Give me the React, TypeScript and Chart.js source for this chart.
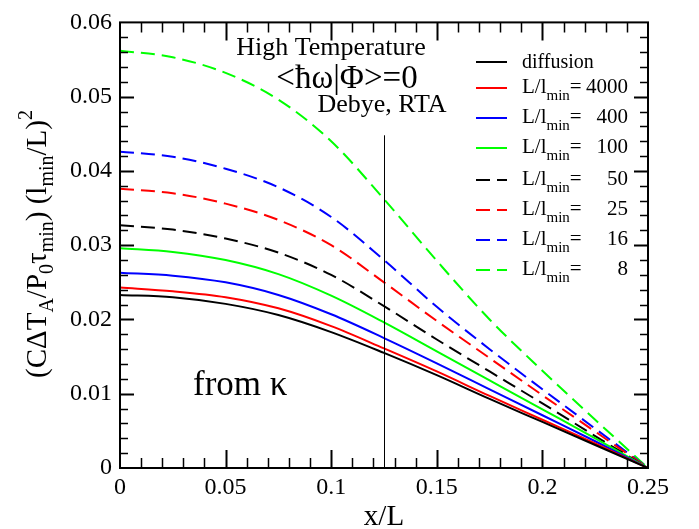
import React, { useEffect, useRef } from "react";
import { Chart, registerables } from "chart.js";

Chart.register(...registerables);

// ---- data ----
const xValues = [0, 0.025, 0.05, 0.075, 0.1, 0.125, 0.15, 0.175, 0.2, 0.225, 0.25];

const diffusion = [0.0233, 0.023, 0.0221, 0.0206, 0.0183, 0.0155, 0.0125, 0.0093, 0.0062, 0.0031, 0];
const ratio4000 = [0.0243, 0.0238, 0.023, 0.0215, 0.0191, 0.0161, 0.013, 0.0097, 0.0065, 0.0033, 0];
const ratio400 = [0.0263, 0.0259, 0.025, 0.0233, 0.0207, 0.0175, 0.0141, 0.0106, 0.0071, 0.0036, 0];
const ratio100 = [0.0296, 0.0291, 0.028, 0.0261, 0.0232, 0.0196, 0.0157, 0.0118, 0.0079, 0.004, 0];
const ratio50 = [0.0327, 0.0321, 0.0309, 0.029, 0.026, 0.0218, 0.0173, 0.013, 0.0087, 0.0043, 0];
const ratio25 = [0.0376, 0.037, 0.0356, 0.0334, 0.03, 0.025, 0.0198, 0.0148, 0.0098, 0.0049, 0];
const ratio16 = [0.0426, 0.0419, 0.0403, 0.0378, 0.0338, 0.028, 0.0217, 0.016, 0.0106, 0.0053, 0];
const ratio8 = [0.0562, 0.0553, 0.0532, 0.0496, 0.044, 0.0362, 0.0279, 0.02, 0.0131, 0.0065, 0];

const seriesValues = [diffusion, ratio4000, ratio400, ratio100, ratio50, ratio25, ratio16, ratio8];
const legendNumbers = ["", "4000", "400", "100", "50", "25", "16", "8"];
const seriesColors = ["#000000", "#ff0000", "#0000ff", "#00ff00", "#000000", "#ff0000", "#0000ff", "#00ff00"];
const seriesDashed = [false, false, false, false, true, true, true, true];

const markerX = 0.125;
const markerTop = 0.0448;

const FONT = "Liberation Serif";
const DASH = [14, 7];

Chart.defaults.font.family = FONT;

type Seg = { t: string; s: number; dy?: number };

function drawRich(ctx: CanvasRenderingContext2D, segs: Seg[], x: number, y: number, align: "left" | "center" | "right") {
  let total = 0;
  const widths = segs.map((g) => {
    ctx.font = `${g.s}px ${FONT}`;
    const w = ctx.measureText(g.t).width;
    total += w;
    return w;
  });
  let cx = align === "left" ? x : align === "center" ? x - total / 2 : x - total;
  ctx.textAlign = "left";
  ctx.textBaseline = "alphabetic";
  segs.forEach((g, i) => {
    ctx.font = `${g.s}px ${FONT}`;
    ctx.fillText(g.t, cx, y + (g.dy || 0));
    cx += widths[i];
  });
}

const decorPlugin = {
  id: "decor",
  afterDraw(chart: any) {
    const { ctx, chartArea: a, scales } = chart;
    const xs = scales.x;
    const ys = scales.y;
    ctx.save();
    ctx.strokeStyle = "#000";
    ctx.fillStyle = "#000";
    ctx.setLineDash([]);

    // x ticks (inward, bottom and top)
    for (let i = 1; i < 25; i++) {
      const px = Math.round(xs.getPixelForValue(i * 0.01)) + 0.5;
      const major = i % 5 === 0;
      const len = major ? 18 : 10;
      ctx.lineWidth = major ? 2 : 1.5;
      ctx.beginPath();
      ctx.moveTo(px, a.bottom);
      ctx.lineTo(px, a.bottom - len);
      ctx.moveTo(px, a.top);
      ctx.lineTo(px, a.top + len);
      ctx.stroke();
    }
    // y ticks (inward, left and right)
    for (let i = 1; i < 30; i++) {
      const py = Math.round(ys.getPixelForValue(i * 0.002)) + 0.5;
      const major = i % 5 === 0;
      const len = major ? 14 : 8;
      ctx.lineWidth = major ? 2 : 1.5;
      ctx.beginPath();
      ctx.moveTo(a.left, py);
      ctx.lineTo(a.left + len, py);
      ctx.moveTo(a.right, py);
      ctx.lineTo(a.right - len, py);
      ctx.stroke();
    }
    // frame
    ctx.lineWidth = 2;
    ctx.strokeRect(a.left, a.top, a.right - a.left, a.bottom - a.top);

    // vertical marker line
    const mx = Math.round(xs.getPixelForValue(markerX)) + 0.5;
    ctx.lineWidth = 1;
    ctx.beginPath();
    ctx.moveTo(mx, ys.getPixelForValue(markerTop));
    ctx.lineTo(mx, a.bottom);
    ctx.stroke();

    // annotations
    drawRich(ctx, [{ t: "High Temperature", s: 26 }], 331, 55, "center");
    drawRich(ctx, [{ t: "<ħω|Φ>=0", s: 33 }], 347, 88, "center");
    drawRich(ctx, [{ t: "Debye, RTA", s: 26 }], 382, 112, "center");
    drawRich(ctx, [{ t: "from κ", s: 35 }], 193, 395, "left");

    // legend
    const rowY = [62, 88, 118, 148, 180, 210, 240, 270];
    seriesValues.forEach((_, i) => {
      const y = rowY[i];
      ctx.strokeStyle = seriesColors[i];
      ctx.lineWidth = 2;
      ctx.setLineDash(seriesDashed[i] ? DASH : []);
      ctx.beginPath();
      ctx.moveTo(476, y);
      ctx.lineTo(507, y);
      ctx.stroke();
      ctx.setLineDash([]);
      ctx.fillStyle = "#000";
      if (i === 0) {
        drawRich(ctx, [{ t: "diffusion", s: 20 }], 522, y + 6, "left");
      } else {
        drawRich(
          ctx,
          [
            { t: "L/l", s: 21 },
            { t: "min", s: 15, dy: 7 },
            { t: "=", s: 21 },
          ],
          522,
          y + 5,
          "left"
        );
        drawRich(ctx, [{ t: legendNumbers[i], s: 21 }], 628, y + 5, "right");
      }
    });

    // axis titles
    ctx.fillStyle = "#000";
    drawRich(ctx, [{ t: "x/L", s: 29 }], (a.left + a.right) / 2, 525, "center");
    ctx.save();
    ctx.translate(46, 244);
    ctx.rotate(-Math.PI / 2);
    drawRich(
      ctx,
      [
        { t: "(CΔT", s: 29 },
        { t: "A", s: 20, dy: 7 },
        { t: "/P", s: 29 },
        { t: "0", s: 20, dy: 7 },
        { t: "τ", s: 29 },
        { t: "min", s: 20, dy: 7 },
        { t: ") (l", s: 29 },
        { t: "min", s: 20, dy: 7 },
        { t: "/L)", s: 29 },
        { t: "2", s: 20, dy: -14 },
      ],
      0,
      0,
      "center"
    );
    ctx.restore();
    ctx.restore();
  },
};

const fmt = (v: any) => String(Math.round(Number(v) * 1000) / 1000);

export default function App() {
  const ref = useRef<HTMLCanvasElement | null>(null);
  useEffect(() => {
    document.body.style.margin = "0";
    const canvas = ref.current;
    if (!canvas) return;
    const datasets = seriesValues.map((arr, i) => ({
      label: i === 0 ? "diffusion" : `L/lmin= ${legendNumbers[i]}`,
      data: xValues.map((x, j) => ({ x, y: arr[j] })),
      borderColor: seriesColors[i],
      backgroundColor: seriesColors[i],
      borderWidth: 2,
      borderDash: seriesDashed[i] ? DASH : [],
      pointRadius: 0,
      fill: false,
      cubicInterpolationMode: "monotone" as const,
    }));
    const chart = new Chart(canvas, {
      type: "line",
      data: { datasets },
      options: {
        animation: false,
        responsive: false,
        devicePixelRatio: 1,
        layout: { padding: { top: 15, right: 51, left: 0, bottom: 0 } },
        plugins: { legend: { display: false }, tooltip: { enabled: false } },
        scales: {
          x: {
            type: "linear",
            min: 0,
            max: 0.25,
            grid: { display: false, drawTicks: false },
            border: { display: false },
            ticks: {
              stepSize: 0.05,
              color: "#000",
              padding: 5,
              maxRotation: 0,
              font: { family: FONT, size: 24 },
              callback: fmt,
            },
            afterFit: (s: any) => {
              s.height = 61;
            },
          },
          y: {
            type: "linear",
            min: 0,
            max: 0.06,
            grid: { display: false, drawTicks: false },
            border: { display: false },
            ticks: {
              stepSize: 0.01,
              color: "#000",
              padding: 8,
              font: { family: FONT, size: 24 },
              callback: fmt,
            },
            afterFit: (s: any) => {
              s.width = 120;
            },
          },
        },
      },
      plugins: [decorPlugin],
    });
    return () => chart.destroy();
  }, []);
  return (
    <div style={{ width: 699, height: 529 }}>
      <canvas ref={ref} width={699} height={529} style={{ display: "block" }} />
    </div>
  );
}
